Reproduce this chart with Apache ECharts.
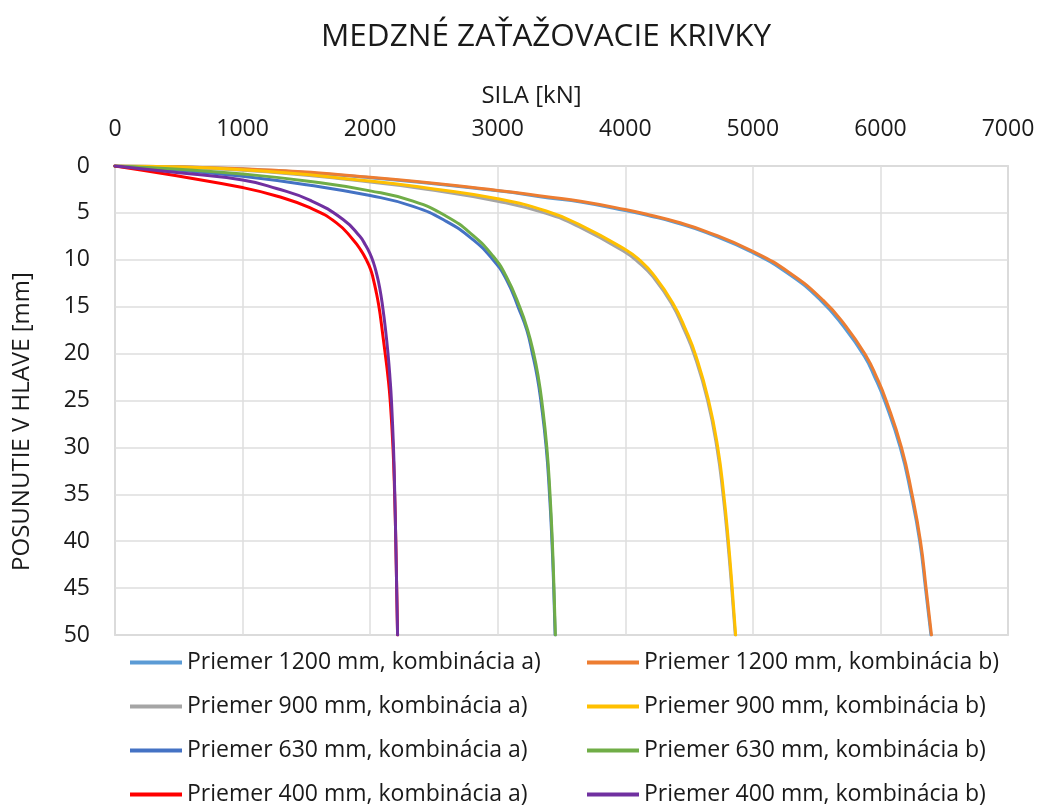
<!DOCTYPE html>
<html>
<head>
<meta charset="utf-8">
<title>Medzné zaťažovacie krivky</title>
<script src="https://cdn.jsdelivr.net/npm/echarts@6/dist/echarts.min.js"></script>
<style>
  html, body { margin: 0; padding: 0; background: #fff; }
  #chart { width: 1039px; height: 808px; }
</style>
</head>
<body>
<div id="chart"></div>
<script>
// sila [kN] / posunutie [mm], odčítané z grafu
var sila1200a = [0, 1000, 2000, 3000, 3400, 3650, 4000, 4200, 4400, 4630, 5000, 5290, 5530, 5710, 5875, 5955, 6032, 6155, 6240, 6308, 6353, 6396]
var posun1200a = [0, 0.32, 1.25, 2.65, 3.4, 3.85, 4.75, 5.35, 6.05, 7.08, 9.25, 11.6, 14.3, 17.1, 20.3, 22.5, 25, 30, 35, 40, 45, 50]
var sila1200b = [0, 1000, 2000, 3000, 3400, 3650, 4000, 4200, 4400, 4630, 5000, 5290, 5550, 5730, 5890, 5970, 6045, 6165, 6248, 6314, 6358, 6400]
var posun1200b = [0, 0.3, 1.2, 2.6, 3.3, 3.75, 4.64, 5.25, 5.95, 6.96, 9.1, 11.4, 14.3, 17.1, 20.3, 22.5, 25, 30, 35, 40, 45, 50]
var sila900a = [0, 1000, 2000, 2500, 3000, 3380, 3640, 4000, 4110, 4216, 4360, 4463, 4545, 4645, 4718, 4766, 4803, 4834, 4862]
var posun900a = [0, 0.45, 1.7, 2.6, 3.75, 5.05, 6.5, 9.2, 10.35, 11.8, 14.6, 17.5, 20.3, 25, 30, 35, 40, 45, 50]
var sila900b = [0, 1000, 2000, 2500, 3000, 3380, 3640, 4000, 4110, 4216, 4372, 4475, 4555, 4653, 4725, 4772, 4808, 4838, 4865]
var posun900b = [0, 0.4, 1.6, 2.45, 3.5, 4.8, 6.25, 8.9, 10, 11.5, 14.6, 17.5, 20.3, 25, 30, 35, 40, 45, 50]
var sila630a = [0, 500, 1000, 1500, 2000, 2336, 2597, 2806, 2963, 3068, 3165, 3228, 3272, 3310, 3338, 3380, 3406, 3425, 3439, 3450]
var posun630a = [0, 0.45, 1.1, 2.0, 3.15, 4.3, 5.9, 7.85, 10, 12.1, 15.2, 17.5, 20, 22.5, 25, 30, 35, 40, 45, 50]
var sila630b = [0, 500, 1000, 1500, 2000, 2336, 2597, 2806, 2963, 3068, 3172, 3235, 3282, 3318, 3345, 3385, 3410, 3428, 3441, 3452]
var posun630b = [0, 0.35, 0.85, 1.6, 2.65, 3.75, 5.35, 7.4, 9.6, 11.8, 15, 17.5, 20, 22.5, 25, 30, 35, 40, 45, 50]
var sila400a = [0, 483, 1000, 1266, 1527, 1736, 1866, 1928, 1970, 2003, 2024, 2050, 2069, 2080, 2099, 2118, 2140, 2157, 2179, 2192, 2201, 2208, 2215]
var posun400a = [0, 1.05, 2.3, 3.2, 4.45, 6.06, 7.85, 9, 10, 11, 12, 13.6, 15, 16, 18, 20, 22.5, 25, 30, 35, 40, 45, 50]
var sila400b = [0, 483, 1000, 1266, 1527, 1788, 1919, 1962, 1997, 2026, 2049, 2075, 2098, 2121, 2140, 2155, 2167, 2183, 2193, 2201, 2208, 2215]
var posun400b = [0, 0.7, 1.5, 2.4, 3.64, 5.7, 7.5, 8.4, 9.3, 10.3, 11.4, 13, 15, 17.5, 20, 22.5, 25, 30, 35, 40, 45, 50]

var nazvy = [
  'Priemer 1200 mm, kombinácia a)', 'Priemer 1200 mm, kombinácia b)',
  'Priemer 900 mm, kombinácia a)', 'Priemer 900 mm, kombinácia b)',
  'Priemer 630 mm, kombinácia a)', 'Priemer 630 mm, kombinácia b)',
  'Priemer 400 mm, kombinácia a)', 'Priemer 400 mm, kombinácia b)'
]
var farby = ['#5b9bd5', '#ed7d31', '#a5a5a5', '#ffc000', '#4472c4', '#70ad47', '#ff0000', '#7030a0']

var sily = [sila1200a, sila1200b, sila900a, sila900b, sila630a, sila630b, sila400a, sila400b]
var posuny = [posun1200a, posun1200b, posun900a, posun900b, posun630a, posun630b, posun400a, posun400b]

var font = '"Open Sans", "Noto Sans", sans-serif'
var textColor = '#1a1a1a'

var chart = echarts.init(document.getElementById('chart'))

var series = nazvy.map(function (n, i) {
  return {
    name: n,
    type: 'line',
    smooth: 0.5,
    showSymbol: false,
    symbol: 'none',
    data: sily[i].map(function (s, k) { return [s, posuny[i][k]] }),
    lineStyle: { width: 3, color: farby[i], cap: 'round', join: 'round' },
    itemStyle: { color: farby[i] },
    animation: false
  }
})

var legendBase = {
  orient: 'vertical',
  top: 651,
  icon: 'rect',
  itemWidth: 52,
  itemHeight: 4,
  itemGap: 21,
  textStyle: { fontFamily: font, fontSize: 23, color: textColor, lineHeight: 23 },
  padding: 0
}

chart.setOption({
  backgroundColor: '#fff',
  title: {
    text: 'MEDZNÉ ZAŤAŽOVACIE KRIVKY',
    left: 316,
    top: 16,
    textStyle: { fontFamily: font, fontSize: 31.5, fontWeight: 'normal', color: textColor }
  },
  legend: [
    Object.assign({}, legendBase, { left: 130, data: [nazvy[0], nazvy[2], nazvy[4], nazvy[6]] }),
    Object.assign({}, legendBase, { left: 587, data: [nazvy[1], nazvy[3], nazvy[5], nazvy[7]] })
  ],
  grid: {
    left: 115,
    right: 31,
    top: 166,
    bottom: 173,
    outerBoundsMode: 'none',
    show: true,
    borderColor: '#c4c4c4',
    borderWidth: 1.5
  },
  xAxis: {
    type: 'value',
    position: 'top',
    min: 0,
    max: 7000,
    interval: 1000,
    name: 'SILA [kN]',
    nameLocation: 'middle',
    nameGap: 58,
    nameTextStyle: { fontFamily: font, fontSize: 24, color: textColor, padding: [0, 60, 0, 0] },
    axisLine: { show: false },
    axisTick: { show: false },
    axisLabel: {
      fontFamily: font, fontSize: 23, color: textColor, margin: 25,
      formatter: function (v) { return String(v) }
    },
    splitLine: { lineStyle: { color: '#dedede', width: 1.5 } }
  },
  yAxis: {
    type: 'value',
    inverse: true,
    min: 0,
    max: 50,
    interval: 5,
    name: 'POSUNUTIE V HLAVE [mm]',
    nameLocation: 'middle',
    nameGap: 81,
    nameTextStyle: { fontFamily: font, fontSize: 24, color: textColor, padding: [0, 42, 0, 0] },
    axisLine: { show: false },
    axisTick: { show: false },
    axisLabel: { fontFamily: font, fontSize: 23, color: textColor, margin: 25 },
    splitLine: { lineStyle: { color: '#dedede', width: 1.5 } }
  },
  series: series
})
</script>
</body>
</html>
